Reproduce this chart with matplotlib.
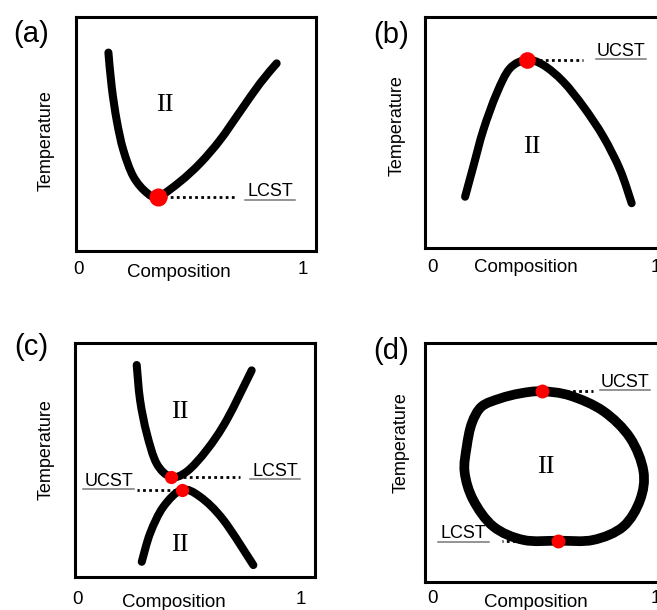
import matplotlib
matplotlib.use("Agg")
import matplotlib.pyplot as plt
from matplotlib.path import Path
from matplotlib.patches import PathPatch
import numpy as np

plt.rcParams["font.family"] = ["Liberation Sans", "DejaVu Sans"]

# binodal curves, composition (0..1) vs reduced temperature (0..1)
a_x = [0.135, 0.149, 0.170, 0.197, 0.239, 0.295, 0.343, 0.433, 0.517, 0.600, 0.683, 0.767, 0.836]
a_y = [0.848, 0.699, 0.556, 0.432, 0.318, 0.249, 0.232, 0.296, 0.375, 0.474, 0.595, 0.717, 0.802]
a_lcst = (0.343, 0.232)

b_x = [0.167, 0.201, 0.243, 0.299, 0.354, 0.424, 0.493, 0.576, 0.660, 0.743, 0.813, 0.861]
b_y = [0.222, 0.352, 0.511, 0.670, 0.778, 0.814, 0.792, 0.720, 0.612, 0.482, 0.338, 0.194]
b_ucst = (0.424, 0.814)

c_top_x = [0.257, 0.271, 0.299, 0.340, 0.399, 0.465, 0.549, 0.632, 0.736]
c_top_y = [0.906, 0.756, 0.613, 0.485, 0.428, 0.450, 0.543, 0.671, 0.883]
c_lcst = (0.399, 0.428)
c_bot_x = [0.278, 0.313, 0.368, 0.445, 0.521, 0.618, 0.743]
c_bot_y = [0.065, 0.187, 0.300, 0.372, 0.343, 0.244, 0.051]
c_ucst = (0.445, 0.372)

d_x = [0.486, 0.604, 0.743, 0.854, 0.910, 0.896, 0.826, 0.701, 0.556, 0.410, 0.285, 0.201,
	0.165, 0.174, 0.195, 0.236, 0.313, 0.396]
d_y = [0.798, 0.780, 0.715, 0.604, 0.464, 0.343, 0.232, 0.176, 0.173, 0.176, 0.232, 0.343,
	0.460, 0.567, 0.664, 0.734, 0.768, 0.789]
d_ucst = (0.486, 0.798)
d_lcst = (0.556, 0.173)


def smooth_path(xs, ys, closed=False):
	# Catmull-Rom through the points, written as cubic Bezier segments
	pts = np.column_stack([xs, ys])
	if closed:
		pts = np.vstack([pts, pts[:1]])
		ext = np.vstack([pts[-2:-1], pts, pts[1:2]])
	else:
		ext = np.vstack([pts[:1], pts, pts[-1:]])
	verts = [pts[0]]
	codes = [Path.MOVETO]
	for i in range(1, len(ext) - 2):
		p0, p1, p2, p3 = ext[i - 1], ext[i], ext[i + 1], ext[i + 2]
		verts += [p1 + (p2 - p0) / 6, p2 - (p3 - p1) / 6, p2]
		codes += [Path.CURVE4] * 3
	return Path(verts, codes)


def curve(ax, xs, ys, lw=5.8, closed=False):
	ax.add_patch(PathPatch(smooth_path(xs, ys, closed), fill=False, lw=lw, color="black",
		capstyle="round", joinstyle="round", zorder=3))


def critical(ax, pt, x_end, size):
	ax.plot([pt[0], x_end], [pt[1], pt[1]], color="black", lw=2, ls=(0, (1, 1.2)), zorder=2)
	ax.plot(pt[0], pt[1], "o", color="#ff0000", ms=size, mec="none", zorder=4)


def tag(ax, x, y, s, uy):
	ax.text(x, y, s, transform=ax.transAxes, ha="center", va="baseline", fontsize=13)
	ax.plot([x - 0.105, x + 0.105], [uy, uy], transform=ax.transAxes, color="#777777", lw=1.1, clip_on=False)


def frame(rect, temp_pos, comp_pos, zero_pos, one_pos):
	ax = fig.add_axes(rect)
	ax.set_xlim(0, 1)
	ax.set_ylim(0, 1)
	ax.set_xticks([])
	ax.set_yticks([])
	for s in ax.spines.values():
		s.set_linewidth(2.2)
	ax.text(*temp_pos, "Temperature", transform=ax.transAxes, rotation=90, ha="center", va="center", fontsize=13)
	ax.text(*comp_pos, "Composition", transform=ax.transAxes, ha="center", va="center", fontsize=13.5)
	ax.text(*zero_pos, "0", transform=ax.transAxes, ha="center", va="center", fontsize=13.5)
	ax.text(*one_pos, "1", transform=ax.transAxes, ha="center", va="center", fontsize=13.5)
	return ax


def phase(ax, x, y):
	ax.text(x, y, "II", transform=ax.transAxes, ha="center", va="center", fontsize=19, family="Liberation Serif")


fig = plt.figure(figsize=(6.57, 6.10), dpi=100)

# (a) LCST
ax = frame([0.1157, 0.5885, 0.3653, 0.3836], (-0.125, 0.47), (0.43, -0.09), (0.01, -0.08), (0.943, -0.08))
curve(ax, a_x, a_y)
critical(ax, a_lcst, 0.671, 13)
tag(ax, 0.808, 0.236, "LCST", 0.218)
phase(ax, 0.371, 0.624)

# (b) UCST
ax = frame([0.6469, 0.5934, 0.3653, 0.3787], (-0.115, 0.528), (0.42, -0.084), (0.03, -0.084), (0.96, -0.084))
curve(ax, b_x, b_y)
critical(ax, b_ucst, 0.658, 12)
tag(ax, 0.817, 0.830, "UCST", 0.818)
phase(ax, 0.446, 0.437)

# (c) both, LCST above UCST
ax = frame([0.1142, 0.0541, 0.3653, 0.3836], (-0.12, 0.543), (0.41, -0.11), (0.01, -0.098), (0.94, -0.098))
curve(ax, c_top_x, c_top_y)
curve(ax, c_bot_x, c_bot_y)
critical(ax, c_lcst, 0.6875, 9.5)
critical(ax, c_ucst, 0.258, 9.5)
tag(ax, 0.833, 0.430, "LCST", 0.419)
tag(ax, 0.140, 0.390, "UCST", 0.376)
phase(ax, 0.4375, 0.705)
phase(ax, 0.4375, 0.137)

# (d) closed loop
ax = frame([0.6469, 0.0459, 0.3653, 0.3918], (-0.1, 0.584), (0.46, -0.084), (0.033, -0.067), (0.96, -0.067))
curve(ax, d_x, d_y, lw=7, closed=True)
critical(ax, d_ucst, 0.70, 10)
critical(ax, d_lcst, 0.321, 10)
tag(ax, 0.833, 0.818, "UCST", 0.803)
tag(ax, 0.160, 0.186, "LCST", 0.167)
phase(ax, 0.504, 0.481)

for s, x, y in [("(a)", 0.047, 0.944), ("(b)", 0.595, 0.943), ("(c)", 0.047, 0.431), ("(d)", 0.595, 0.425)]:
	fig.text(x, y, s, ha="center", va="center", fontsize=21)

fig.savefig("out.png", dpi=100)
